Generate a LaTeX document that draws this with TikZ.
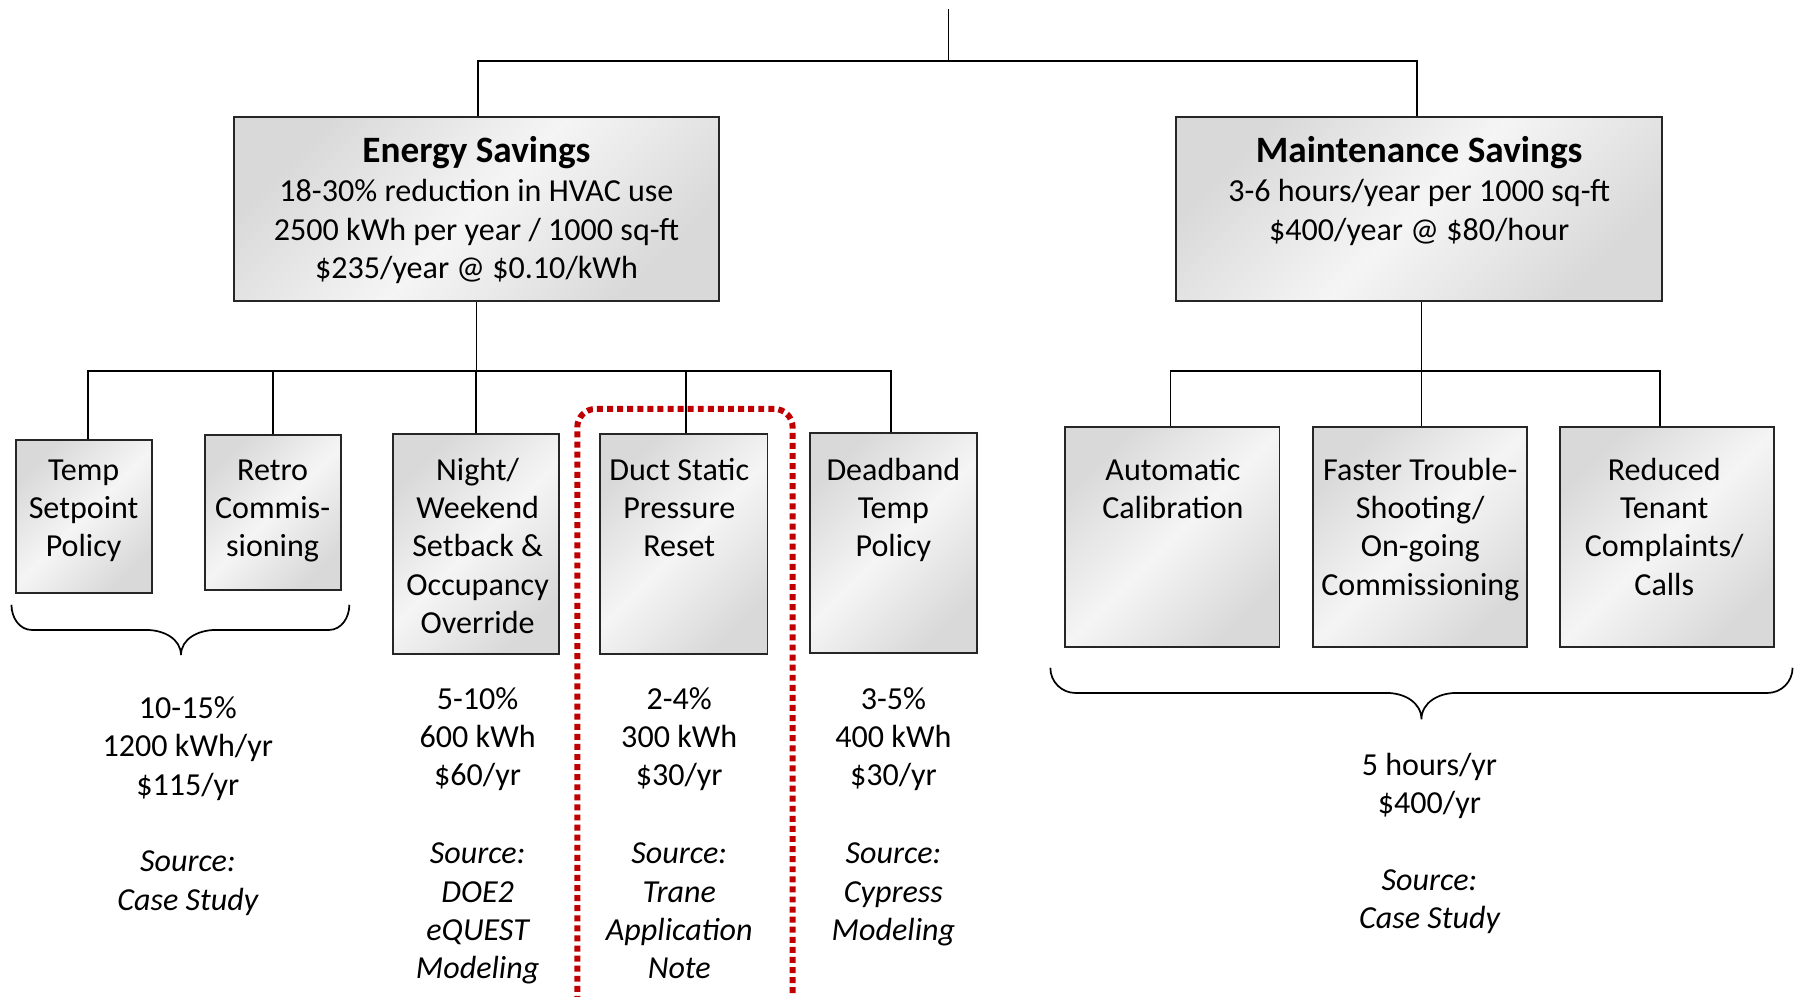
\documentclass[tikz,border=0pt]{standalone}
\usepackage{fontspec}
\setmainfont{Carlito}
\newcommand{\bodyfs}{\fontsize{28pt}{33.5pt}\selectfont}
\newcommand{\titlefs}{\fontsize{32.5pt}{38pt}\selectfont\bfseries}
\definecolor{hlred}{HTML}{C00000}
\tikzset{
  box/.style={draw=black!85, line width=1.6pt, rectangle, inner sep=0pt,
    top color=black!15, bottom color=black!15, middle color=black!4, shading angle=45},
  conn/.style={draw=black, line width=1.5pt},
  txt/.style={align=center, inner sep=0pt, anchor=north, font=\bodyfs},
  itxt/.style={align=center, inner sep=0pt, anchor=north, font=\bodyfs\itshape},
  ttl/.style={inner sep=0pt, anchor=base, font=\titlefs},
  bracepath/.style={draw=black, line width=1.5pt},
  focus/.style={draw=hlred, line width=5.2pt, dash pattern=on 5.2pt off 3.6pt,
    rounded corners=16pt, inner sep=0pt}
}
\begin{document}
\begin{tikzpicture}[x=1pt,y=-1pt]
\useasboundingbox (0,0) rectangle (1568,870);
\fill[white] (0,0) rectangle (1568,870);
\clip (0,0) rectangle (1568,870);

% highlight frame
\node[focus, minimum width=188pt, minimum height=543pt] (focus) at (598,628.5) {};

% top level boxes
\node[box, minimum width=424pt, minimum height=161pt] (energy) at (416,182.5) {};
\node[box, minimum width=424pt, minimum height=161pt] (maint) at (1239,182.5) {};
\node[ttl] (etitle) at (416,142) {Energy Savings};
\node[txt] (etext) at (416,152.5) {\strut 18-30\% reduction in HVAC use\\2500 kWh per year / 1000 sq-ft\\\$235/year @ \$0.10/kWh};
\node[ttl] (mtitle) at (1239,142) {Maintenance Savings};
\node[txt] (mtext) at (1239,152.5) {\strut 3-6 hours/year per 1000 sq-ft\\\$400/year @ \$80/hour};

% lower boxes
\node[box, minimum width=119pt, minimum height=134pt] (temp) at (73.5,451) {};
\node[box, minimum width=119pt, minimum height=135pt] (retro) at (238.5,447.5) {};
\node[box, minimum width=145pt, minimum height=192pt] (night) at (415.5,475) {};
\node[box, minimum width=146pt, minimum height=192pt] (duct) at (597,475) {};
\node[box, minimum width=146pt, minimum height=192pt] (dead) at (780,474) {};
\node[box, minimum width=187pt, minimum height=192pt] (auto) at (1023.5,469) {};
\node[box, minimum width=187pt, minimum height=192pt] (faster) at (1239.5,469) {};
\node[box, minimum width=187pt, minimum height=192pt] (reduced) at (1455.5,469) {};

\node[txt] (tempT) at (73,395.5) {\strut Temp\\Setpoint\\Policy};
\node[txt] (retroT) at (238,395.5) {\strut Retro\\Commis-\\sioning};
\node[txt] (nightT) at (417,395.5) {\strut Night/\\Weekend\\Setback \&\\Occupancy\\Override};
\node[txt] (ductT) at (593,395.5) {\strut Duct Static\\Pressure\\Reset};
\node[txt] (deadT) at (780,395.5) {\strut Deadband\\Temp\\Policy};
\node[txt] (autoT) at (1024,395.5) {\strut Automatic\\Calibration};
\node[txt] (fasterT) at (1240,395.5) {\strut Faster Trouble-\\Shooting/\\On-going\\Commissioning};
\node[txt] (reducedT) at (1453,395.5) {\strut Reduced\\Tenant\\Complaints/\\Calls};

% connectors
\coordinate (top) at (828,8);
\coordinate (topj) at (828,53);
\draw[conn] (top) -- (topj);
\draw[conn] ([xshift=1pt]energy.north) |- (topj) -| ([xshift=-2pt]maint.north);

\coordinate (ej) at (416,324);
\draw[conn] (energy.south) -- (ej);
\draw[conn] ([xshift=3.5pt]temp.north) |- (ej);
\draw[conn] (ej) -| ([xshift=-2pt]dead.north);
\draw[conn] (retro.north) -- (retro.north |- ej);
\draw[conn] (night.north) -- (night.north |- ej);
\draw[conn] ([xshift=2pt]duct.north) -- ([xshift=2pt]duct.north |- ej);

\coordinate (mj) at (1241,324);
\draw[conn] ([xshift=2pt]maint.south) -- (mj);
\draw[conn] ([xshift=-1.5pt]auto.north) |- (mj);
\draw[conn] (mj) -| ([xshift=-6.5pt]reduced.north);
\draw[conn] ([xshift=1.5pt]faster.north) -- ([xshift=1.5pt]faster.north |- mj);

% braces
\draw[bracepath] (10,528) to[out=-90,in=180] (28,550) -- (128,550)
  to[out=0,in=90] (158,572) to[out=90,in=180] (188,550) -- (287,550)
  to[out=0,in=-90] (305,528);
\draw[bracepath] (917,583) to[out=-90,in=180] (939,605) -- (1211,605)
  to[out=0,in=90] (1241,628) to[out=90,in=180] (1271,605) -- (1543,605)
  to[out=0,in=-90] (1565,583);

% values
\node[txt] (leftV) at (164,603.5) {\strut 10-15\%\\1200 kWh/yr\\\$115/yr};
\node[itxt] (leftS) at (164,737.5) {\strut Source:\\Case Study};
\node[txt] (nightV) at (417,595.5) {\strut 5-10\%\\600 kWh\\\$60/yr};
\node[itxt] (nightS) at (417,730.5) {\strut Source:\\DOE2\\eQUEST\\Modeling};
\node[txt] (ductV) at (593,595.5) {\strut 2-4\%\\300 kWh\\\$30/yr};
\node[itxt] (ductS) at (593,730.5) {\strut Source:\\Trane\\Application\\Note};
\node[txt] (deadV) at (780,595.5) {\strut 3-5\%\\400 kWh\\\$30/yr};
\node[itxt] (deadS) at (780,730.5) {\strut Source:\\Cypress\\Modeling};
\node[txt] (maintV) at (1248,653.5) {\strut 5 hours/yr\\\$400/yr};
\node[itxt] (maintS) at (1248,753.5) {\strut Source:\\Case Study};
\end{tikzpicture}
\end{document}
